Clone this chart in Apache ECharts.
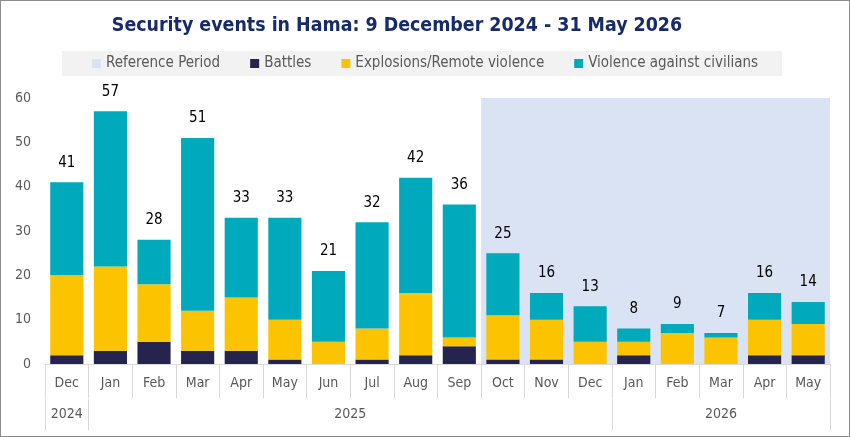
<!DOCTYPE html>
<html>
<head>
<meta charset="utf-8">
<script src="https://cdn.jsdelivr.net/npm/echarts@6/dist/echarts.min.js"></script>
<style>
  html, body { margin: 0; padding: 0; background: #fff; }
  #chart {
    width: 850px;
    height: 437px;
    box-sizing: border-box;
    border: 1px solid #8c8c8c;
  }
</style>
</head>
<body>
<div id="chart"></div>
<script>
  const months = ['Dec', 'Jan', 'Feb', 'Mar', 'Apr', 'May', 'Jun', 'Jul', 'Aug', 'Sep', 'Oct', 'Nov', 'Dec', 'Jan', 'Feb', 'Mar', 'Apr', 'May'];
  // year label positions (in category units) and year separators
  const yearLabels = { 0.5: '2024', 7: '2025', 15.5: '2026' };
  const yearBounds = [0, 1, 13, 18];

  const battles = [2, 3, 5, 3, 3, 1, 0, 1, 2, 4, 1, 1, 0, 2, 0, 0, 2, 2];
  const explosions = [18, 19, 13, 9, 12, 9, 5, 7, 14, 2, 10, 9, 5, 3, 7, 6, 8, 7];
  const civilians = [21, 35, 10, 39, 18, 23, 16, 24, 26, 30, 14, 6, 8, 3, 2, 1, 6, 5];
  const totals = battles.map((v, i) => v + explosions[i] + civilians[i]);

  // reference period: Oct 2025 - May 2026 (band edges, in category units)
  const refStart = 10;
  const refEnd = 18;

  const font = '"DejaVu Sans Condensed", "DejaVu Sans", sans-serif';
  const textGrey = '#595959';
  const lineGrey = '#d9d9d9';

  const myChart = echarts.init(document.getElementById('chart'));

  myChart.setOption({
    animation: false,
    textStyle: { fontFamily: font },
    title: {
      text: 'Security events in Hama: 9 December 2024 - 31 May 2026',
      left: 391,
      textAlign: 'center',
      top: 10,
      textStyle: {
        fontFamily: font,
        fontSize: 19.4,
        fontWeight: 'bold',
        color: '#172b6b',
      },
    },
    legend: {
      top: 50,
      left: 'center',
      icon: 'rect',
      itemWidth: 9,
      itemHeight: 9,
      itemGap: 30,
      itemTextGap: 5,
      padding: [5, 24, 5, 30],
      backgroundColor: '#f2f2f2',
      textStyle: { fontFamily: font, fontSize: 15, color: textGrey },
      data: ['Reference Period', 'Battles', 'Explosions/Remote violence', 'Violence against civilians'],
    },
    grid: [
      { left: 44, right: 19, top: 97, bottom: 72 },
      { left: 44, right: 19, top: 398, height: 31 },
    ],
    xAxis: [
      {
        type: 'category',
        gridIndex: 0,
        data: months,
        axisLine: { lineStyle: { color: lineGrey } },
        axisTick: { show: true, interval: 0, length: 34, lineStyle: { color: lineGrey } },
        axisLabel: { interval: 0, margin: 12, color: textGrey, fontSize: 14, fontFamily: font },
      },
      {
        type: 'value',
        gridIndex: 1,
        position: 'top',
        min: 0,
        max: 18,
        interval: 0.5,
        axisLine: { show: false },
        axisTick: { show: false },
        splitLine: { show: false },
        axisLabel: {
          inside: true,
          margin: 8,
          color: textGrey,
          fontSize: 14,
          fontFamily: font,
          showMinLabel: true,
          showMaxLabel: true,
          formatter: v => yearLabels[v] || '',
        },
      },
      {
        // hidden band-unit axis used for the reference period shading
        type: 'value',
        gridIndex: 0,
        min: 0,
        max: 18,
        show: false,
      },
    ],
    yAxis: [
      {
        type: 'value',
        gridIndex: 0,
        min: 0,
        max: 60,
        interval: 10,
        axisLine: { show: false },
        axisTick: { show: false },
        splitLine: { show: false },
        axisLabel: { color: textGrey, fontSize: 14, margin: 14, fontFamily: font },
      },
      {
        type: 'value',
        gridIndex: 1,
        min: 0,
        max: 1,
        show: false,
      },
    ],
    series: [
      {
        name: 'Reference Period',
        type: 'line',
        xAxisIndex: 2,
        yAxisIndex: 0,
        data: [],
        itemStyle: { color: '#dae3f3' },
        markArea: {
          silent: true,
          itemStyle: { color: '#dae3f3' },
          data: [[
            { xAxis: refStart, yAxis: 0 },
            { xAxis: refEnd, yAxis: 60 },
          ]],
        },
      },
      {
        name: 'Battles',
        type: 'bar',
        stack: 'total',
        barCategoryGap: '24%',
        data: battles,
        itemStyle: { color: '#25244f' },
      },
      {
        name: 'Explosions/Remote violence',
        type: 'bar',
        stack: 'total',
        data: explosions,
        itemStyle: { color: '#fcc400' },
      },
      {
        name: 'Violence against civilians',
        type: 'bar',
        stack: 'total',
        data: civilians,
        itemStyle: { color: '#00aabd' },
        label: {
          show: true,
          position: 'top',
          distance: 12,
          color: '#000',
          fontSize: 15,
          fontFamily: font,
          formatter: p => totals[p.dataIndex],
        },
      },
      {
        // year separators under the month row
        type: 'line',
        xAxisIndex: 1,
        yAxisIndex: 1,
        data: [],
        markLine: {
          silent: true,
          symbol: 'none',
          label: { show: false },
          lineStyle: { color: lineGrey, type: 'solid', width: 1 },
          data: yearBounds.map(b => ({ xAxis: b })),
        },
      },
    ],
  });
</script>
</body>
</html>
